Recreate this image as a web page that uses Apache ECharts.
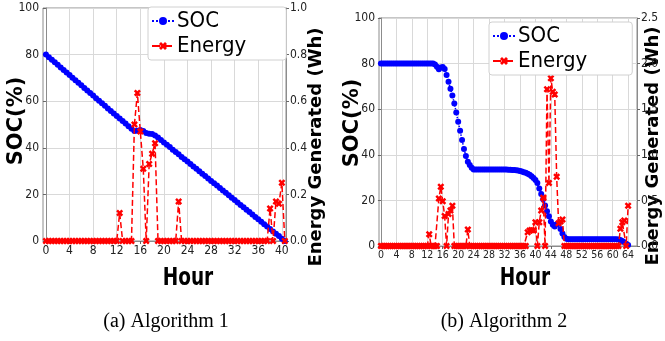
<!DOCTYPE html>
<html>
<head>
<meta charset="utf-8">
<script src="https://cdn.jsdelivr.net/npm/echarts@6.0.0/dist/echarts.min.js"></script>
<style>
  html, body { margin: 0; padding: 0; background: #fff; }
  #chart { width: 665px; height: 341px; }
</style>
</head>
<body>
<div id="chart"></div>
<script>
// (a) Algorithm 1 : samples every half hour
const hoursA = [
  0, 0.5, 1, 1.5, 2, 2.5, 3, 3.5, 4, 4.5, 5, 5.5, 6, 6.5, 7, 7.5, 8, 8.5, 9, 9.5,
  10, 10.5, 11, 11.5, 12, 12.5, 13, 13.5, 14, 14.5, 15, 15.5, 16, 16.5, 17, 17.5, 18, 18.5, 19, 19.5,
  20, 20.5, 21, 21.5, 22, 22.5, 23, 23.5, 24, 24.5, 25, 25.5, 26, 26.5, 27, 27.5, 28, 28.5, 29, 29.5,
  30, 30.5, 31, 31.5, 32, 32.5, 33, 33.5, 34, 34.5, 35, 35.5, 36, 36.5, 37, 37.5, 38, 38.5, 39, 39.5,
  40, 40.5
];
const socA = [
  80, 78.9, 77.8, 76.7, 75.6, 74.5, 73.4, 72.3, 71.2, 70.1,
  69.0, 67.9, 66.8, 65.7, 64.6, 63.5, 62.4, 61.3, 60.2, 59.1,
  58.0, 56.9, 55.8, 54.7, 53.6, 52.6, 51.5, 50.4, 49.3, 48.2,
  47.2, 47.3, 47.6, 47.2, 46.4, 46.0, 45.9, 45.3, 44.4, 43.4,
  42.3, 41.3, 40.3, 39.2, 38.2, 37.2, 36.1, 35.1, 34.1, 33.0,
  32.0, 31.0, 29.9, 28.9, 27.9, 26.8, 25.8, 24.8, 23.8, 22.7,
  21.7, 20.7, 19.6, 18.6, 17.6, 16.5, 15.5, 14.5, 13.4, 12.4,
  11.4, 10.3, 9.3, 8.3, 7.2, 6.2, 5.2, 4.1, 3.1, 2.1,
  1.0, 0
];
const energyA = [
  0, 0, 0, 0, 0, 0, 0, 0, 0, 0,
  0, 0, 0, 0, 0, 0, 0, 0, 0, 0,
  0, 0, 0, 0, 0, 0.12, 0, 0, 0, 0,
  0.50, 0.635, 0.47, 0.31, 0, 0.33, 0.375, 0.42, 0, 0,
  0, 0, 0, 0, 0, 0.17, 0, 0, 0, 0,
  0, 0, 0, 0, 0, 0, 0, 0, 0, 0,
  0, 0, 0, 0, 0, 0, 0, 0, 0, 0,
  0, 0, 0, 0, 0, 0, 0.14, 0, 0.17, 0.16,
  0.25, 0
];

// (b) Algorithm 2
const hoursB = [
  0, 0.5, 1, 1.5, 2, 2.5, 3, 3.5, 4, 4.5, 5, 5.5, 6, 6.5, 7, 7.5, 8, 8.5, 9, 9.5,
  10, 10.5, 11, 11.5, 12, 12.5, 13, 13.5, 14, 14.5, 15, 15.5, 16, 16.5, 17, 17.5, 18, 18.5, 19, 19.5,
  20, 20.5, 21, 21.5, 22, 22.5, 23, 23.5, 24, 24.5, 25, 25.5, 26, 26.5, 27, 27.5, 28, 28.5, 29, 29.5,
  30, 30.5, 31, 31.5, 32, 32.5, 33, 33.5, 34, 34.5, 35, 35.5, 36, 36.5, 37, 37.5, 38, 38.5, 39, 39.5,
  40, 40.5, 41, 41.5, 42, 42.5, 43, 43.5, 44, 44.5, 45, 45.5, 46, 46.5, 47, 47.5, 48, 48.5, 49, 49.5,
  50, 50.5, 51, 51.5, 52, 52.5, 53, 53.5, 54, 54.5, 55, 55.5, 56, 56.5, 57, 57.5, 58, 58.5, 59, 59.5,
  60, 60.5, 61, 61.5, 62, 62.5, 63, 63.5, 64
];
const socB = [
  80, 80, 80, 80, 80, 80, 80, 80, 80, 80,
  80, 80, 80, 80, 80, 80, 80, 80, 80, 80,
  80, 80, 80, 80, 80, 80, 80, 80, 79.6, 78.6,
  77.5, 78.3, 78.5, 77.6, 75.0, 72.0, 69.0, 66.0, 62.5, 58.5,
  54.5, 50.5, 46.5, 42.5, 39.5, 37.0, 35.5, 34.3, 33.6, 33.5,
  33.5, 33.5, 33.5, 33.5, 33.5, 33.5, 33.5, 33.5, 33.5, 33.5,
  33.5, 33.5, 33.5, 33.5, 33.5, 33.5, 33.4, 33.4, 33.3, 33.3,
  33.2, 33.1, 32.9, 32.7, 32.4, 32.1, 31.7, 31.2, 30.6, 29.8,
  28.9, 27.6, 25.2, 22.8, 20.5, 17.8, 15.2, 13.0, 10.8, 9.3,
  8.6, 9.5, 10.0, 7.5, 5.5, 4.0, 3.2, 3.0, 3.0, 3.0,
  3.0, 3.0, 3.0, 3.0, 3.0, 3.0, 3.0, 3.0, 3.0, 3.0,
  3.0, 3.0, 3.0, 3.0, 3.0, 3.0, 3.0, 3.0, 3.0, 3.0,
  3.0, 3.0, 3.0, 2.9, 2.6, 2.2, 1.6, 1.0, 0.4
];
const energyB = [
  0, 0, 0, 0, 0, 0, 0, 0, 0, 0,
  0, 0, 0, 0, 0, 0, 0, 0, 0, 0,
  0, 0, 0, 0, 0, 0.13, 0, 0, 0, 0,
  0.52, 0.65, 0.49, 0.33, 0, 0.35, 0.39, 0.44, 0, 0,
  0, 0, 0, 0, 0, 0.18, 0, 0, 0, 0,
  0, 0, 0, 0, 0, 0, 0, 0, 0, 0,
  0, 0, 0, 0, 0, 0, 0, 0, 0, 0,
  0, 0, 0, 0, 0, 0, 0.15, 0.17, 0.175, 0.17,
  0.26, 0, 0.26, 0.39, 0.53, 0, 1.72, 0.69, 1.84, 1.69,
  1.66, 0.76, 0.25, 0.27, 0.29, 0, 0, 0, 0, 0,
  0, 0, 0, 0, 0, 0, 0, 0, 0, 0,
  0, 0, 0, 0, 0, 0, 0, 0, 0, 0,
  0, 0, 0, 0, 0.19, 0.26, 0.28, 0, 0.44
];

const xTicksA = [0, 4, 8, 12, 16, 20, 24, 28, 32, 36, 40];
const xTicksB = [0, 4, 8, 12, 16, 20, 24, 28, 32, 36, 40, 44, 48, 52, 56, 60, 64];

const narrow = "'DejaVu Sans Condensed', sans-serif";
const xMark = "path://M0,2.5 L2.5,0 L5,2.5 L7.5,0 L10,2.5 L7.5,5 L10,7.5 L7.5,10 L5,7.5 L2.5,10 L0,7.5 L2.5,5 Z";
const gridLine = { show: true, lineStyle: { color: "#d9d9d9", width: 1 } };
const axisLine = { show: true, lineStyle: { color: "#8c8c8c" } };
const tick = { show: true, length: 3, lineStyle: { color: "#666" } };
const tickLabel = { fontFamily: narrow, fontSize: 12, color: "#222", margin: 4 };

const pairs = (xs, ys) => xs.map((x, i) => [x, ys[i]]);

function xAxisFor(gridIndex, max, ticks, fontSize) {
  return {
    type: "value", gridIndex, min: -0.5, max,
    axisLine, axisTick: { ...tick, customValues: ticks },
    axisLabel: { ...tickLabel, fontSize, customValues: ticks },
    splitLine: gridLine,
  };
}

function socSeries(xAxisIndex, yAxisIndex, data) {
  return {
    name: "SOC", type: "line", xAxisIndex, yAxisIndex, data,
    symbol: "circle", symbolSize: 6, showAllSymbol: true,
    itemStyle: { color: "#0000ff" },
    lineStyle: { color: "#0000ff", width: 1.5, type: "dotted" },
    z: 2,
  };
}

function energySeries(xAxisIndex, yAxisIndex, data) {
  return {
    name: "Energy", type: "line", xAxisIndex, yAxisIndex, data,
    symbol: xMark, symbolSize: 7, showAllSymbol: true,
    itemStyle: { color: "#ff0000" },
    lineStyle: { color: "#ff0000", width: 1.5, type: "dashed" },
    z: 3,
  };
}

function legendAt(left, top, padRight) {
  return {
    orient: "vertical", left, top,
    data: ["SOC", "Energy"],
    backgroundColor: "#fff", borderColor: "#d0d0d0", borderWidth: 1, borderRadius: 3,
    padding: [3, padRight, 3, 3], itemGap: 3, itemWidth: 22, itemHeight: 10,
    textStyle: { fontFamily: narrow, fontSize: 22, color: "#000", padding: [0, 0, 0, -2] },
  };
}

function label(text, x, y, size, rotation, extra) {
  return {
    type: "text", x, y, rotation,
    style: {
      text, fill: "#000", align: "center", verticalAlign: "middle",
      font: "bold " + size + "px 'DejaVu Sans'",
    },
    ...extra,
  };
}

const chart = echarts.init(document.getElementById("chart"));
chart.setOption({
  animation: false,
  grid: [
    { left: 43, top: 8, width: 243, height: 233, show: true, borderColor: "#8c8c8c", borderWidth: 1 },
    { left: 379, top: 18, width: 258, height: 228, show: true, borderColor: "#8c8c8c", borderWidth: 1 },
  ],
  xAxis: [xAxisFor(0, 40.7, xTicksA, 12), xAxisFor(1, 66.3, xTicksB, 10.5)],
  yAxis: [
    { type: "value", gridIndex: 0, min: 0, max: 100, interval: 20,
      axisLine, axisTick: tick, axisLabel: tickLabel, splitLine: gridLine },
    { type: "value", gridIndex: 0, position: "right", min: 0, max: 1, interval: 0.2,
      axisLine, axisTick: tick, splitLine: { show: false },
      axisLabel: { ...tickLabel, formatter: (v) => v.toFixed(1) } },
    { type: "value", gridIndex: 1, min: 0, max: 100, interval: 20,
      axisLine, axisTick: tick, axisLabel: tickLabel, splitLine: gridLine },
    { type: "value", gridIndex: 1, position: "right", min: 0, max: 2.5, interval: 0.5,
      axisLine, axisTick: tick, splitLine: { show: false },
      axisLabel: { ...tickLabel, formatter: (v) => v.toFixed(1) } },
  ],
  legend: [legendAt(148, 7, 40), legendAt(489, 22, 45)],
  series: [
    socSeries(0, 0, pairs(hoursA, socA)),
    energySeries(0, 1, pairs(hoursA, energyA)),
    socSeries(1, 2, pairs(hoursB, socB)),
    energySeries(1, 3, pairs(hoursB, energyB)),
  ],
  graphic: [
    label("SOC(%)", 17, 121, 21, Math.PI / 2),
    label("SOC(%)", 353, 123, 21, Math.PI / 2),
    label("Energy Generated (Wh)", 316, 147, 18, Math.PI / 2),
    label("Energy Generated (Wh)", 653, 146, 18, Math.PI / 2),
    label("Hour", 188, 278, 25, 0, { scaleX: 0.74 }),
    label("Hour", 525, 278, 25, 0, { scaleX: 0.74 }),
    {
      type: "text", x: 166, y: 322,
      style: { text: "(a) Algorithm 1", fill: "#000", align: "center", verticalAlign: "middle",
               font: "20px 'Liberation Serif'" },
    },
    {
      type: "text", x: 504, y: 322,
      style: { text: "(b) Algorithm 2", fill: "#000", align: "center", verticalAlign: "middle",
               font: "20px 'Liberation Serif'" },
    },
  ],
});
</script>
</body>
</html>
